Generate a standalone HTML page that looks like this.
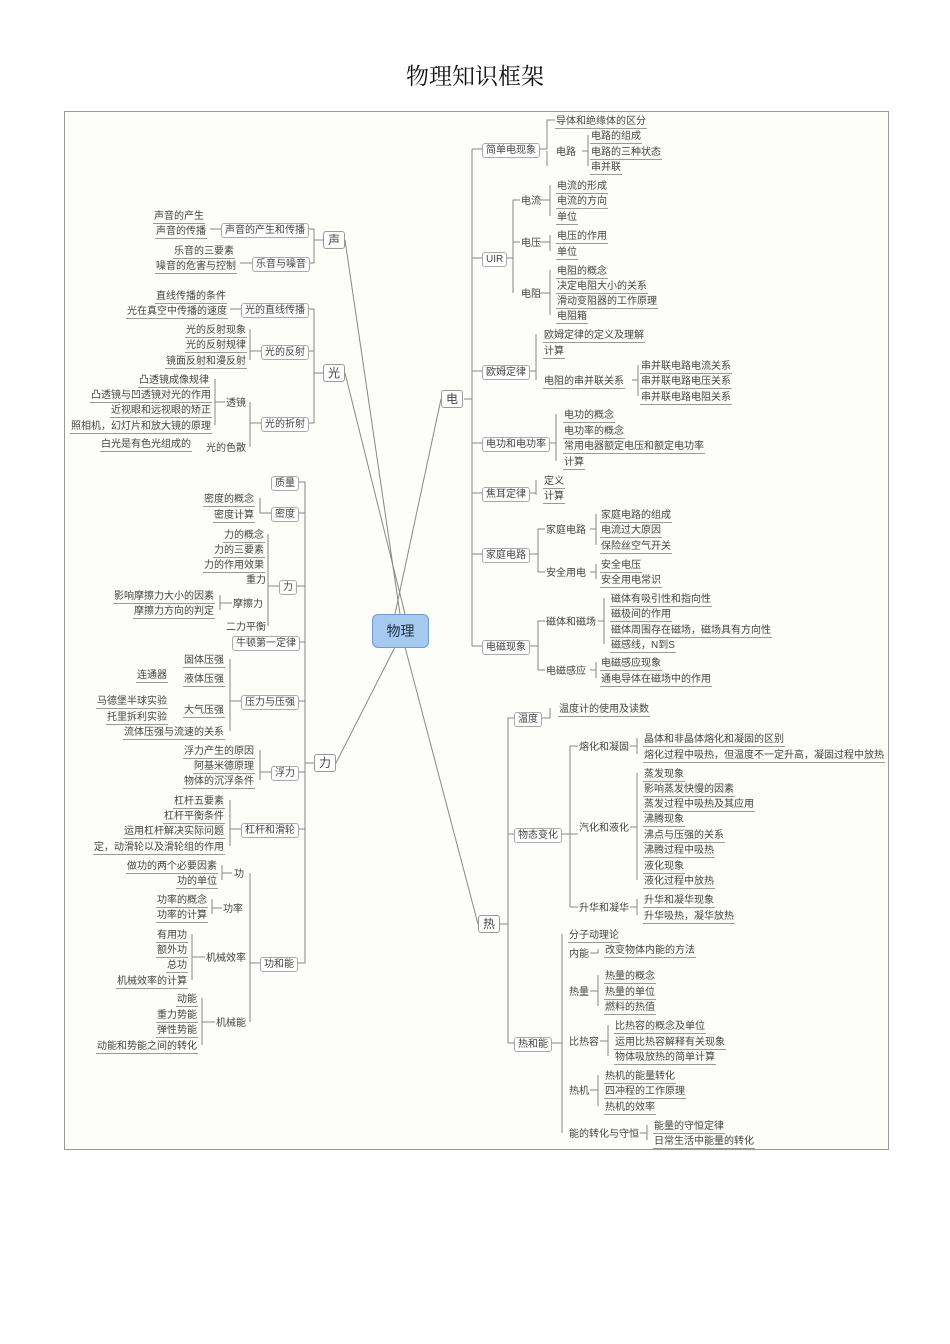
<!DOCTYPE html>
<html><head><meta charset="utf-8">
<style>
body{margin:0;background:#fff;}
#p{position:relative;width:950px;height:1344px;overflow:hidden;font-family:"Liberation Sans","Noto Sans CJK SC",sans-serif;color:#444;}
h1{position:absolute;top:58px;left:0;width:950px;text-align:center;font-family:"Liberation Serif","Noto Serif CJK SC",serif;font-weight:normal;font-size:23px;margin:0;color:#111;}
#f{position:absolute;left:64px;top:111px;width:823px;height:1037px;border:1px solid #999;background:#fdfdf9;}
.t{position:absolute;font-size:10px;line-height:12px;white-space:nowrap;border-bottom:1px solid #999;padding:0 1px;margin-top:3px;}
.n{position:absolute;font-size:10px;line-height:12px;white-space:nowrap;padding:0 1px;margin-top:3px;}
.b{position:absolute;font-size:10px;line-height:13px;white-space:nowrap;border:1px solid #aaa;border-radius:3px;background:#fff;padding:0 3px;margin-top:1px;}
.B{position:absolute;font-size:12px;line-height:16px;border:1px solid #999;border-radius:3px;background:#fff;padding:0 4px;}
svg{position:absolute;left:0;top:0;}
</style></head><body><div id="p">
<h1>物理知识框架</h1>
<div id="f"></div>
<svg width="950" height="1344" stroke="#888" stroke-width="1" fill="none">
<line x1="400" y1="614" x2="345" y2="240"/><line x1="405" y1="614" x2="345" y2="373"/>
<line x1="395" y1="647" x2="336" y2="763"/><line x1="395" y1="614" x2="441" y2="399"/>
<line x1="405" y1="647" x2="478" y2="924"/>
<path d="M307 229H314V263H307M314 240H323"/>
<path d="M307 309H314V423H307M307 351H314M314 373H323"/>
<path d="M221 229H210M252 263H240M241 309H230M261 351H250V329M250 360V344"/>
<path d="M261 423H250V447M250 402V423M225 402H215V425M215 379V402"/>
<path d="M297 482H305V963H297M305 513H297M305 586H297M305 642H297M305 701H297M305 772H297M305 829H297M305 763H314"/>
<path d="M271 513H260V498M279 586H268V534M268 626V586M241 701H230V659M230 731V701M271 772H260V750M260 780V772M241 829H230V800M230 846V829"/>
<path d="M260 963H250V873M250 1022V963M232 873H222V865M222 880V873M222 908H212V899M212 914V908M205 957H192V934M192 980V957M215 1022H202V998M202 1045V1022M232 603H220V595M220 610V603"/>
<path d="M464 399H472M472 149V646M472 149H482M472 258H482M472 371H482M472 443H482M472 493H482M472 554H482M472 646H482"/>
<path d="M538 149H547V120H555M547 151V166M582 151H588V135M588 166V151"/>
<path d="M505 258H513V200H520M513 293V258M513 242H520M540 200H550V185M550 216V200M540 242H550V235M550 251V242M540 293H550V270M550 315V293"/>
<path d="M527 371H536V334M536 380V371M632 380H638V365M638 396V380"/>
<path d="M547 443H556V414M556 461V443M527 493H536V480M536 495V493"/>
<path d="M528 554H538V529H545M538 572V554M538 572H545M590 529H596V514M596 545V529M590 572H596V564M596 579V572"/>
<path d="M528 646H538V621H545M538 670V646M538 670H545M598 621H604V598M604 644V621M590 670H596V662M596 678V670"/>
<path d="M500 924H508V718H514M508 1043V924M508 834H514M508 1043H514"/>
<path d="M540 718H550V708M560 834H570V746H578M570 907V834H578M570 907H578M630 746H637V738M637 754V746M630 827H637V773M637 880V827M630 907H637V899M637 915V907"/>
<path d="M552 1043H562V934M562 1133V1043M590 953H598V949M590 991H598V975M598 1006V991M600 1041H608V1025M608 1056V1041M590 1090H598V1075M598 1106V1090M640 1133H647V1125M647 1140V1133"/>
</svg>
<div style="position:absolute;left:372px;top:614px;width:55px;height:32px;background:#a6c9f0;border:1px solid #6b9bd2;border-radius:6px;font-size:14px;line-height:32px;text-align:center;color:#234;">物理</div>

<div class="B" style="left:323px;top:231px">声</div>
<div class="b" style="left:221px;top:222px">声音的产生和传播</div>
<div class="t" style="right:745px;top:208px">声音的产生</div>
<div class="t" style="right:743px;top:223px">声音的传播</div>
<div class="b" style="left:252px;top:256px">乐音与噪音</div>
<div class="t" style="right:715px;top:243px">乐音的三要素</div>
<div class="t" style="right:713px;top:258px">噪音的危害与控制</div>
<div class="B" style="left:323px;top:364px">光</div>
<div class="b" style="left:241px;top:302px">光的直线传播</div>
<div class="t" style="right:723px;top:288px">直线传播的条件</div>
<div class="t" style="right:722px;top:303px">光在真空中传播的速度</div>
<div class="b" style="left:261px;top:344px">光的反射</div>
<div class="t" style="right:703px;top:322px">光的反射现象</div>
<div class="t" style="right:703px;top:337px">光的反射规律</div>
<div class="t" style="right:703px;top:353px">镜面反射和漫反射</div>
<div class="b" style="left:261px;top:416px">光的折射</div>
<div class="n" style="left:225px;top:395px">透镜</div>
<div class="t" style="right:740px;top:372px">凸透镜成像规律</div>
<div class="t" style="right:738px;top:387px">凸透镜与凹透镜对光的作用</div>
<div class="t" style="right:738px;top:402px">近视眼和远视眼的矫正</div>
<div class="t" style="right:738px;top:418px">照相机，幻灯片和放大镜的原理</div>
<div class="n" style="left:205px;top:440px">光的色散</div>
<div class="t" style="right:758px;top:436px">白光是有色光组成的</div>

<div class="B" style="left:314px;top:754px">力</div>
<div class="b" style="left:271px;top:475px">质量</div>
<div class="b" style="left:271px;top:506px">密度</div>
<div class="t" style="right:695px;top:491px">密度的概念</div>
<div class="t" style="right:695px;top:507px">密度计算</div>
<div class="b" style="left:279px;top:579px">力</div>
<div class="t" style="right:685px;top:527px">力的概念</div>
<div class="t" style="right:685px;top:542px">力的三要素</div>
<div class="t" style="right:685px;top:557px">力的作用效果</div>
<div class="n" style="left:245px;top:572px">重力</div>
<div class="n" style="left:232px;top:596px">摩擦力</div>
<div class="t" style="right:735px;top:588px">影响摩擦力大小的因素</div>
<div class="t" style="right:735px;top:603px">摩擦力方向的判定</div>
<div class="n" style="left:225px;top:619px">二力平衡</div>
<div class="b" style="left:232px;top:635px">牛顿第一定律</div>
<div class="b" style="left:241px;top:694px">压力与压强</div>
<div class="t" style="right:725px;top:652px">固体压强</div>
<div class="t" style="right:725px;top:671px">液体压强</div>
<div class="t" style="right:782px;top:667px">连通器</div>
<div class="t" style="right:725px;top:702px">大气压强</div>
<div class="t" style="right:782px;top:693px">马德堡半球实验</div>
<div class="t" style="right:782px;top:709px">托里拆利实验</div>
<div class="t" style="right:725px;top:724px">流体压强与流速的关系</div>
<div class="b" style="left:271px;top:765px">浮力</div>
<div class="t" style="right:695px;top:743px">浮力产生的原因</div>
<div class="t" style="right:695px;top:758px">阿基米德原理</div>
<div class="t" style="right:695px;top:773px">物体的沉浮条件</div>
<div class="b" style="left:241px;top:822px">杠杆和滑轮</div>
<div class="t" style="right:725px;top:793px">杠杆五要素</div>
<div class="t" style="right:725px;top:808px">杠杆平衡条件</div>
<div class="t" style="right:725px;top:823px">运用杠杆解决实际问题</div>
<div class="t" style="right:725px;top:839px">定，动滑轮以及滑轮组的作用</div>
<div class="b" style="left:260px;top:956px">功和能</div>
<div class="n" style="left:233px;top:866px">功</div>
<div class="t" style="right:732px;top:858px">做功的两个必要因素</div>
<div class="t" style="right:732px;top:873px">功的单位</div>
<div class="n" style="left:222px;top:901px">功率</div>
<div class="t" style="right:742px;top:892px">功率的概念</div>
<div class="t" style="right:742px;top:907px">功率的计算</div>
<div class="n" style="left:205px;top:950px">机械效率</div>
<div class="t" style="right:762px;top:927px">有用功</div>
<div class="t" style="right:762px;top:942px">额外功</div>
<div class="t" style="right:762px;top:957px">总功</div>
<div class="t" style="right:762px;top:973px">机械效率的计算</div>
<div class="n" style="left:215px;top:1015px">机械能</div>
<div class="t" style="right:752px;top:991px">动能</div>
<div class="t" style="right:752px;top:1007px">重力势能</div>
<div class="t" style="right:752px;top:1022px">弹性势能</div>
<div class="t" style="right:752px;top:1038px">动能和势能之间的转化</div>

<div class="B" style="left:441px;top:390px">电</div>
<div class="b" style="left:482px;top:142px">简单电现象</div>
<div class="t" style="left:555px;top:113px">导体和绝缘体的区分</div>
<div class="n" style="left:555px;top:144px">电路</div>
<div class="t" style="left:590px;top:128px">电路的组成</div>
<div class="t" style="left:590px;top:144px">电路的三种状态</div>
<div class="t" style="left:590px;top:159px">串并联</div>
<div class="b" style="left:482px;top:251px">UIR</div>
<div class="n" style="left:520px;top:193px">电流</div>
<div class="t" style="left:556px;top:178px">电流的形成</div>
<div class="t" style="left:556px;top:193px">电流的方向</div>
<div class="t" style="left:556px;top:209px">单位</div>
<div class="n" style="left:520px;top:235px">电压</div>
<div class="t" style="left:556px;top:228px">电压的作用</div>
<div class="t" style="left:556px;top:244px">单位</div>
<div class="n" style="left:520px;top:286px">电阻</div>
<div class="t" style="left:556px;top:263px">电阻的概念</div>
<div class="t" style="left:556px;top:278px">决定电阻大小的关系</div>
<div class="t" style="left:556px;top:293px">滑动变阻器的工作原理</div>
<div class="t" style="left:556px;top:308px">电阻箱</div>
<div class="b" style="left:482px;top:364px">欧姆定律</div>
<div class="t" style="left:543px;top:327px">欧姆定律的定义及理解</div>
<div class="t" style="left:543px;top:343px">计算</div>
<div class="t" style="left:543px;top:373px">电阻的串并联关系</div>
<div class="t" style="left:640px;top:358px">串并联电路电流关系</div>
<div class="t" style="left:640px;top:373px">串并联电路电压关系</div>
<div class="t" style="left:640px;top:389px">串并联电路电阻关系</div>
<div class="b" style="left:482px;top:436px">电功和电功率</div>
<div class="t" style="left:563px;top:407px">电功的概念</div>
<div class="t" style="left:563px;top:423px">电功率的概念</div>
<div class="t" style="left:563px;top:438px">常用电器额定电压和额定电功率</div>
<div class="t" style="left:563px;top:454px">计算</div>
<div class="b" style="left:482px;top:486px">焦耳定律</div>
<div class="t" style="left:543px;top:473px">定义</div>
<div class="t" style="left:543px;top:488px">计算</div>
<div class="b" style="left:482px;top:547px">家庭电路</div>
<div class="n" style="left:545px;top:522px">家庭电路</div>
<div class="t" style="left:600px;top:507px">家庭电路的组成</div>
<div class="t" style="left:600px;top:522px">电流过大原因</div>
<div class="t" style="left:600px;top:538px">保险丝空气开关</div>
<div class="n" style="left:545px;top:565px">安全用电</div>
<div class="t" style="left:600px;top:557px">安全电压</div>
<div class="t" style="left:600px;top:572px">安全用电常识</div>
<div class="b" style="left:482px;top:639px">电磁现象</div>
<div class="n" style="left:545px;top:614px">磁体和磁场</div>
<div class="t" style="left:610px;top:591px">磁体有吸引性和指向性</div>
<div class="t" style="left:610px;top:606px">磁极间的作用</div>
<div class="t" style="left:610px;top:622px">磁体周围存在磁场，磁场具有方向性</div>
<div class="t" style="left:610px;top:637px">磁感线，N到S</div>
<div class="n" style="left:545px;top:663px">电磁感应</div>
<div class="t" style="left:600px;top:655px">电磁感应现象</div>
<div class="t" style="left:600px;top:671px">通电导体在磁场中的作用</div>

<div class="B" style="left:478px;top:915px">热</div>
<div class="b" style="left:514px;top:711px">温度</div>
<div class="t" style="left:558px;top:701px">温度计的使用及读数</div>
<div class="b" style="left:514px;top:827px">物态变化</div>
<div class="n" style="left:578px;top:739px">熔化和凝固</div>
<div class="t" style="left:643px;top:731px">晶体和非晶体熔化和凝固的区别</div>
<div class="t" style="left:643px;top:747px">熔化过程中吸热，但温度不一定升高，凝固过程中放热</div>
<div class="n" style="left:578px;top:820px">汽化和液化</div>
<div class="t" style="left:643px;top:766px">蒸发现象</div>
<div class="t" style="left:643px;top:781px">影响蒸发快慢的因素</div>
<div class="t" style="left:643px;top:796px">蒸发过程中吸热及其应用</div>
<div class="t" style="left:643px;top:811px">沸腾现象</div>
<div class="t" style="left:643px;top:827px">沸点与压强的关系</div>
<div class="t" style="left:643px;top:842px">沸腾过程中吸热</div>
<div class="t" style="left:643px;top:858px">液化现象</div>
<div class="t" style="left:643px;top:873px">液化过程中放热</div>
<div class="n" style="left:578px;top:900px">升华和凝华</div>
<div class="t" style="left:643px;top:892px">升华和凝华现象</div>
<div class="t" style="left:643px;top:908px">升华吸热，凝华放热</div>
<div class="b" style="left:514px;top:1036px">热和能</div>
<div class="t" style="left:568px;top:927px">分子动理论</div>
<div class="n" style="left:568px;top:946px">内能</div>
<div class="t" style="left:604px;top:942px">改变物体内能的方法</div>
<div class="n" style="left:568px;top:984px">热量</div>
<div class="t" style="left:604px;top:968px">热量的概念</div>
<div class="t" style="left:604px;top:984px">热量的单位</div>
<div class="t" style="left:604px;top:999px">燃料的热值</div>
<div class="n" style="left:568px;top:1034px">比热容</div>
<div class="t" style="left:614px;top:1018px">比热容的概念及单位</div>
<div class="t" style="left:614px;top:1034px">运用比热容解释有关现象</div>
<div class="t" style="left:614px;top:1049px">物体吸放热的简单计算</div>
<div class="n" style="left:568px;top:1083px">热机</div>
<div class="t" style="left:604px;top:1068px">热机的能量转化</div>
<div class="t" style="left:604px;top:1083px">四冲程的工作原理</div>
<div class="t" style="left:604px;top:1099px">热机的效率</div>
<div class="n" style="left:568px;top:1126px">能的转化与守恒</div>
<div class="t" style="left:653px;top:1118px">能量的守恒定律</div>
<div class="t" style="left:653px;top:1133px">日常生活中能量的转化</div>
</div></body></html>
